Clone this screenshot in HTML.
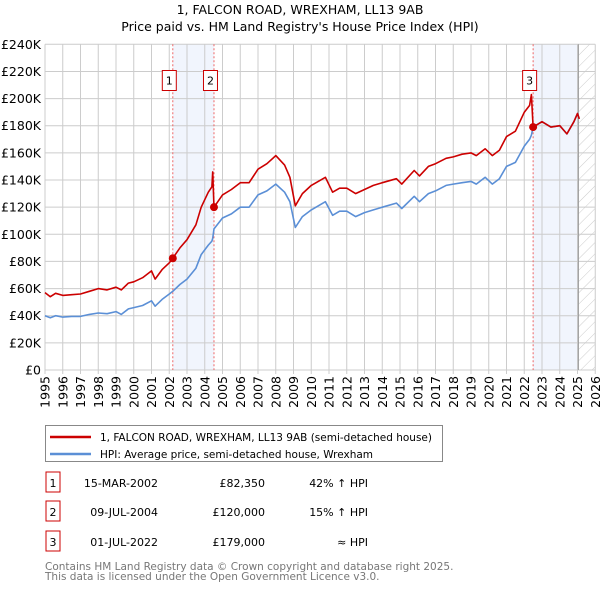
<!DOCTYPE html>
<html><head><meta charset="utf-8"><style>
body{margin:0;background:#fff;font-family:"Liberation Sans","DejaVu Sans",sans-serif;}
svg text{font-family:"DejaVu Sans","Liberation Sans",sans-serif;}
</style></head><body>
<svg id="c" width="600" height="590" xmlns="http://www.w3.org/2000/svg">
<defs><pattern id="hatch" width="8" height="8" patternUnits="userSpaceOnUse" patternTransform="rotate(45)"><line x1="0" y1="0" x2="0" y2="8" stroke="#ccc" stroke-width="1"/></pattern></defs>
<text x="300" y="14" text-anchor="middle" font-size="12.5">1, FALCON ROAD, WREXHAM, LL13 9AB</text>
<text x="300" y="31" text-anchor="middle" font-size="12.5">Price paid vs. HM Land Registry's House Price Index (HPI)</text>
<g id="plot"></g>
<g>
<rect x="45.5" y="425.5" width="397" height="36" fill="#fff" stroke="#888"/>
<line x1="50" y1="437" x2="91" y2="437" stroke="#cc0000" stroke-width="2.5"/>
<text x="100" y="441" font-size="10.5">1, FALCON ROAD, WREXHAM, LL13 9AB (semi-detached house)</text>
<line x1="50" y1="454" x2="91" y2="454" stroke="#5b8fd6" stroke-width="2.5"/>
<text x="100" y="458" font-size="10.5">HPI: Average price, semi-detached house, Wrexham</text>
</g>
<g id="table" font-size="11"></g>
<text x="45" y="570" font-size="10.5" fill="#777">Contains HM Land Registry data © Crown copyright and database right 2025.</text>
<text x="45" y="580" font-size="10.5" fill="#777">This data is licensed under the Open Government Licence v3.0.</text>
</svg>
<script>
const dates=[1995.0,1995.3,1995.6,1996.0,1996.5,1997.0,1997.5,1998.0,1998.5,1999.0,1999.3,1999.7,2000.0,2000.5,2001.0,2001.2,2001.6,2002.0,2002.2,2002.6,2003.0,2003.5,2003.8,2004.2,2004.4,2004.45,2004.52,2005.0,2005.5,2006.0,2006.5,2007.0,2007.5,2008.0,2008.5,2008.8,2009.1,2009.5,2010.0,2010.8,2011.2,2011.6,2012.0,2012.5,2013.0,2013.5,2014.0,2014.8,2015.1,2015.8,2016.1,2016.6,2017.0,2017.6,2018.0,2018.5,2019.0,2019.3,2019.8,2020.2,2020.6,2021.0,2021.5,2022.0,2022.3,2022.4,2022.5,2023.0,2023.5,2024.0,2024.4,2024.8,2025.0,2025.1];
const hpi=[40,38.5,40,39,39.5,39.5,41,42,41.5,43,41,45,46,47.5,51,47,52,56,58,63,67,75,85,92,95,97,104,112,115,120,120,129,132,137,131,124,105,113,118,124,114,117,117,113,116,118,120,123,119,128,124,130,132,136,137,138,139,137,142,137,141,150,153,165,170,173,179,183,179,180,174,183,189,185];
const prop=[57,54,56.5,55,55.5,56,58,60,59,61,59,64,65,68,73,67,74,79,82.35,90,96,107,120,131,135,146,120,129,133,138,138,148,152,158,151,142,121,130,136,142,131,134,134,130,133,136,138,141,137,147,143,150,152,156,157,159,160,158,163,158,162,172,176,190,195,203,179,183,179,180,174,183,189,185];
const saleDates=[2002.2,2004.52,2022.5];
const salePrices=[82350,120000,179000];
const saleLabels=["1","2","3"];
const saleDateText=["15-MAR-2002","09-JUL-2004","01-JUL-2022"];
const salePriceText=["£82,350","£120,000","£179,000"];
const saleHpiText=["42% ↑ HPI","15% ↑ HPI","≈ HPI"];
const yTicks=[0,20,40,60,80,100,120,140,160,180,200,220,240];
const xTicks=[1995,1996,1997,1998,1999,2000,2001,2002,2003,2004,2005,2006,2007,2008,2009,2010,2011,2012,2013,2014,2015,2016,2017,2018,2019,2020,2021,2022,2023,2024,2025,2026];
const NS="http://www.w3.org/2000/svg";
const X=y=>45+17.75*(y-1995);
const Y=v=>370-v*325.7/240;
const plot=document.getElementById('plot');
function mk(tag,attrs,parent){const e=document.createElementNS(NS,tag);for(const k in attrs)e.setAttribute(k,attrs[k]);(parent||plot).appendChild(e);return e;}
let r=mk('rect',{x:X(saleDates[0]),y:Y(240),width:X(saleDates[1])-X(saleDates[0]),height:Y(0)-Y(240),fill:'#f1f5fd'});


r=mk('rect',{x:X(saleDates[2]),y:Y(240),width:X(2025)-X(saleDates[2]),height:Y(0)-Y(240),fill:'#f1f5fd'});


r=mk('rect',{x:X(2025.05),y:Y(240),width:X(2026)-X(2025.05),height:Y(0)-Y(240),fill:'url(#hatch)'});


yTicks.forEach(t=>{
 const l=mk('line',{x1:45,x2:X(2026),y1:Y(t),y2:Y(t),stroke:'#ccc','stroke-width':1});
 
 
 const tx=mk('text',{x:41,y:Y(t)+4.5,'text-anchor':'end','font-size':12.5});
 tx.textContent=t===0?'£0':'£'+t+'K';
 
 
});
xTicks.forEach(t=>{
 const l=mk('line',{x1:X(t),x2:X(t),y1:Y(240),y2:Y(0)+4,stroke:'#ccc','stroke-width':1});
 
 
 const tx=mk('text',{x:0,y:0,'font-size':12.5,'text-anchor':'end',transform:`translate(${X(t)+4.5},376) rotate(-90)`});
 tx.textContent=t;
 
 
});
let vl=mk('line',{x1:X(2025.05),x2:X(2025.05),y1:Y(240),y2:Y(0),stroke:'#999','stroke-width':1});


saleDates.forEach((d,i)=>{
 const l=mk('line',{x1:X(d),x2:X(d),y1:Y(240),y2:Y(0),stroke:'#e66','stroke-width':1,'stroke-dasharray':'2,2'});
 
 
 const bx=mk('rect',{x:X(d)-10.5,y:70.5,width:14,height:20,fill:'#fff',stroke:'#cc0000'});
 
 
 const tx=mk('text',{x:X(d)-3.5,y:84.5,'text-anchor':'middle','font-size':11});
 tx.textContent=saleLabels[i];
 
 
});
function path(ds,vs,color,name){
 const p=mk('path',{d:ds.map((d,i)=>(i?'L':'M')+X(d).toFixed(1)+','+Y(vs[i]).toFixed(1)).join(''),fill:'none',stroke:color,'stroke-width':1.6,'stroke-linejoin':'round'});
 
 
}
path(dates,hpi,'#5b8fd6','hpi-line');
path(dates,prop,'#cc0000','property-price-line');
saleDates.forEach((d,i)=>{
 const c=mk('circle',{cx:X(d),cy:Y(salePrices[i]/1000),r:4,fill:'#cc0000'});
 
 
});
const tb=document.getElementById('table');
const rowsY=[484,513,543];
saleLabels.forEach((s,i)=>{
 const y=rowsY[i];
 const b=mk('rect',{x:46,y:y-12,width:14,height:20,fill:'#fff',stroke:'#cc0000'},tb);
 
 
 const vals=[[s,53,'middle'],[saleDateText[i],158,'end'],[salePriceText[i],265,'end'],[saleHpiText[i],368,'end']];
 const names=['number','date','price','hpi-change'];
 vals.forEach((v,j)=>{
  const t=mk('text',{x:v[1],y:y+3,'text-anchor':v[2],'font-size':11},tb);
  t.textContent=v[0];
  
  
 });
});
</script>
</body></html>
